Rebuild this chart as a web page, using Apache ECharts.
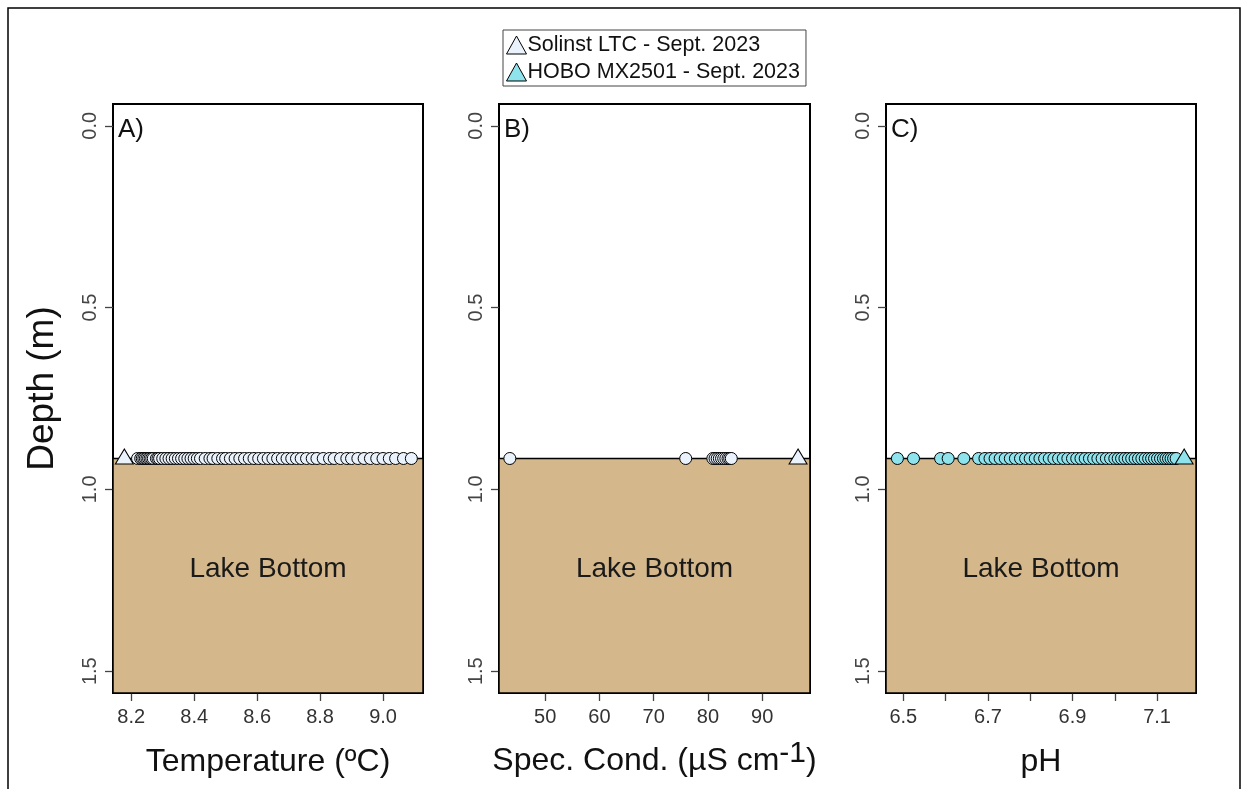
<!DOCTYPE html>
<html>
<head>
<meta charset="utf-8">
<script src="https://cdn.jsdelivr.net/npm/echarts@6/dist/echarts.min.js"></script>
<style>html,body{margin:0;padding:0;background:#fff}#c{width:1250px;height:789px}</style>
</head>
<body>
<div id="c"></div>
<script>
// ---------- data ----------
const bottomDepth = 0.915;
const depthTicks = [0, 0.5, 1.0, 1.5];
const tempTicks = [8.2, 8.4, 8.6, 8.8, 9.0];
const condTicks = [50, 60, 70, 80, 90];
const phTicks = [6.5, 6.6, 6.7, 6.8, 6.9, 7.0, 7.1];
const phLabels = [6.5, 6.7, 6.9, 7.1];

const tempSolinstTri = [8.178];
const tempSolinstCirc = [8.22, 8.23, 8.235, 8.24, 8.245, 8.25, 8.255, 8.26, 8.265, 8.27, 8.28, 8.285, 8.29, 8.30, 8.31,
  8.32, 8.33, 8.34, 8.35, 8.36, 8.37, 8.38, 8.39, 8.40, 8.41, 8.42, 8.435, 8.45, 8.46, 8.475, 8.49, 8.50, 8.515, 8.53,
  8.545, 8.56, 8.575, 8.59, 8.605, 8.62, 8.635, 8.65, 8.665, 8.68, 8.695, 8.71, 8.725, 8.74, 8.757, 8.775, 8.79, 8.81,
  8.83, 8.845, 8.865, 8.885, 8.90, 8.92, 8.94, 8.96, 8.98, 9.00, 9.02, 9.04, 9.065, 9.09];

const condSolinstCirc = [43.5, 75.9, 80.9, 81.3, 81.7, 82.1, 82.5, 82.9, 83.3, 83.7, 84.0, 84.3];
const condSolinstTri = [96.6];

const phHoboCirc = [6.486, 6.524, 6.588, 6.606, 6.643, 6.678, 6.693, 6.705, 6.717, 6.729, 6.741, 6.753, 6.765, 6.777,
  6.789, 6.80, 6.812, 6.823, 6.834, 6.845, 6.856, 6.867, 6.878, 6.889, 6.90, 6.91, 6.92, 6.93, 6.94, 6.95, 6.96, 6.97,
  6.98, 6.99, 7.00, 7.008, 7.016, 7.024, 7.032, 7.04, 7.048, 7.056, 7.064, 7.072, 7.08, 7.087, 7.094, 7.101, 7.108,
  7.115, 7.121, 7.127, 7.133, 7.139, 7.145];
const phHoboTri = [7.164];

const solinstName = 'Solinst LTC - Sept. 2023';
const hoboName = 'HOBO MX2501 - Sept. 2023';
// ---------- styling ----------
const FONT = 'Liberation Sans, Arial, Helvetica, sans-serif';
const solinstFill = '#EAF2FB';
const hoboFill = '#8EE3EC';
const depthRange = [-0.06, 1.56];
const xRanges = [[8.142, 9.127], [41.5, 98.8], [6.459, 7.192]];

const grids = [
  {left: 113, top: 104, width: 310, height: 589},
  {left: 499, top: 104, width: 311, height: 589},
  {left: 886, top: 104, width: 310, height: 589}
].map(g => Object.assign(g, {show: true, borderColor: '#000', borderWidth: 2, backgroundColor: '#fff',
  containLabel: false, outerBoundsMode: 'none'}));

function xAxis(i, ticks, labels, name, fmt, gap) {
  return {
    type: 'value', gridIndex: i, min: xRanges[i][0], max: xRanges[i][1],
    splitLine: {show: false}, axisLine: {show: false, onZero: false},
    axisTick: {show: true, inside: false, length: 8, lineStyle: {color: '#444', width: 1.3}, customValues: ticks},
    axisLabel: {show: true, customValues: labels, formatter: fmt, fontFamily: FONT, fontSize: 20, color: '#333', margin: 14},
    name: name, nameLocation: 'middle', nameGap: gap,
    nameTextStyle: {fontFamily: FONT, fontSize: 32, color: '#111',
      rich: {sup: {fontFamily: FONT, fontSize: 30, color: '#111', verticalAlign: 'top', padding: [0, 0, 14, 0]},
             n: {fontFamily: FONT, fontSize: 32, color: '#111'}}}
  };
}
function yAxis(i, withName) {
  return {
    type: 'value', gridIndex: i, inverse: true, min: depthRange[0], max: depthRange[1],
    splitLine: {show: false}, axisLine: {show: false, onZero: false},
    axisTick: {show: true, length: 8, lineStyle: {color: '#444', width: 1.3}, customValues: depthTicks},
    axisLabel: {show: true, customValues: depthTicks, rotate: 90, formatter: v => v.toFixed(1),
      fontFamily: FONT, fontSize: 20, color: '#444', margin: 13},
    name: withName ? 'Depth (m)' : '', nameLocation: 'middle', nameGap: 52,
    nameTextStyle: {fontFamily: FONT, fontSize: 37, color: '#111', padding: [0, 0, 0, 20]}
  };
}

const pts = arr => arr.map(v => [v, bottomDepth]);

function bottomSeries(i) {
  return {
    type: 'scatter', xAxisIndex: i, yAxisIndex: i, data: [], z: 1, silent: true,
    markArea: {
      silent: true,
      itemStyle: {color: '#D4B78B', borderColor: '#000', borderWidth: 1.5},
      label: {show: true, position: 'inside', offset: [0, -6], formatter: 'Lake Bottom',
        fontFamily: FONT, fontSize: 28, color: '#1a1a1a'},
      data: [[{xAxis: xRanges[i][0], yAxis: bottomDepth}, {xAxis: xRanges[i][1], yAxis: depthRange[1]}]]
    }
  };
}
function circSeries(i, name, arr, fill) {
  return {type: 'scatter', name: name, xAxisIndex: i, yAxisIndex: i, data: pts(arr), z: 3,
    symbol: 'circle', symbolSize: 12,
    itemStyle: {color: fill, borderColor: '#000', borderWidth: 1, opacity: 1}};
}
function triSeries(i, name, arr, fill) {
  return {type: 'scatter', name: name, xAxisIndex: i, yAxisIndex: i, data: pts(arr), z: 4,
    symbol: 'triangle', symbolSize: [18, 15], symbolOffset: [0, -2],
    itemStyle: {color: fill, borderColor: '#000', borderWidth: 1, opacity: 1}};
}

const chart = echarts.init(document.getElementById('c'), null, {renderer: 'canvas'});
chart.setOption({
  animation: false,
  backgroundColor: '#fff',
  grid: grids,
  legend: {
    left: 503, top: 30, orient: 'vertical', itemGap: 5, padding: [4, 6, 3, 3],
    borderColor: '#444', borderWidth: 1, backgroundColor: '#fff',
    itemWidth: 20, itemHeight: 18, selectedMode: false,
    textStyle: {fontFamily: FONT, fontSize: 21.5, color: '#111', padding: [0, 0, 0, -4]},
    data: [
      {name: solinstName, icon: 'triangle', itemStyle: {color: solinstFill, borderColor: '#000', borderWidth: 1}},
      {name: hoboName, icon: 'triangle', itemStyle: {color: hoboFill, borderColor: '#000', borderWidth: 1}}
    ]
  },
  xAxis: [
    xAxis(0, tempTicks, tempTicks, 'Temperature (ºC)', v => v.toFixed(1), 53),
    xAxis(1, condTicks, condTicks, '{n|Spec. Cond. (µS cm}{sup|-1}{n|)}', v => String(v), 46),
    xAxis(2, phTicks, phLabels, 'pH', v => v.toFixed(1), 53)
  ],
  yAxis: [yAxis(0, true), yAxis(1, false), yAxis(2, false)],
  graphic: [
    {type: 'text', left: 118, top: 117, style: {text: 'A)', font: '26px ' + FONT, fill: '#111'}},
    {type: 'text', left: 504, top: 117, style: {text: 'B)', font: '26px ' + FONT, fill: '#111'}},
    {type: 'text', left: 891, top: 117, style: {text: 'C)', font: '26px ' + FONT, fill: '#111'}},
    {type: 'polyline', shape: {points: [[8, 789], [8, 8], [1240, 8], [1240, 789]]},
      style: {stroke: '#000', lineWidth: 1.5, fill: null}}
  ],
  series: [
    bottomSeries(0), bottomSeries(1), bottomSeries(2),
    circSeries(0, solinstName, tempSolinstCirc, solinstFill),
    triSeries(0, solinstName, tempSolinstTri, solinstFill),
    circSeries(1, solinstName, condSolinstCirc, solinstFill),
    triSeries(1, solinstName, condSolinstTri, solinstFill),
    circSeries(2, hoboName, phHoboCirc, hoboFill),
    triSeries(2, hoboName, phHoboTri, hoboFill)
  ]
});
</script>
</body>
</html>
